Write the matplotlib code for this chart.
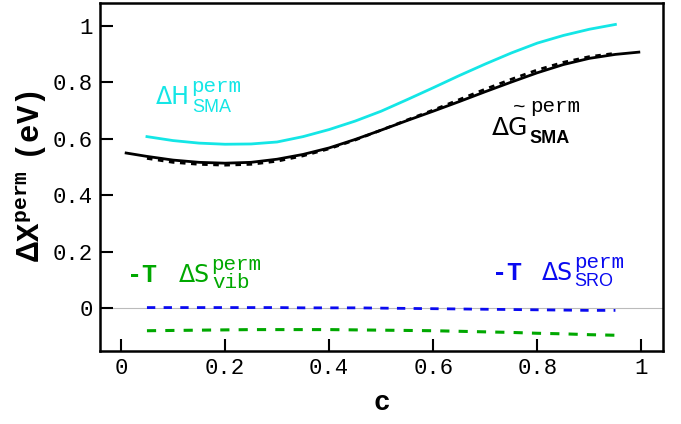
import numpy as np
import matplotlib.pyplot as plt
from matplotlib.transforms import offset_copy

plt.rcParams['mathtext.fontset'] = 'custom'
plt.rcParams['mathtext.rm'] = 'Liberation Sans:bold'
plt.rcParams['mathtext.tt'] = 'Liberation Mono:bold'
plt.rcParams['mathtext.sf'] = 'Liberation Sans'

# data
c_h = [0.05, 0.1, 0.15, 0.2, 0.25, 0.3, 0.35, 0.4, 0.45, 0.5, 0.55, 0.6, 0.65, 0.7, 0.75, 0.8, 0.85, 0.9, 0.95]
dH = [0.607, 0.593, 0.584, 0.580, 0.581, 0.588, 0.607, 0.632, 0.662, 0.697, 0.738, 0.780, 0.823, 0.864, 0.903, 0.938, 0.965, 0.987, 1.004]

c_g = [0.01, 0.05, 0.1, 0.15, 0.2, 0.25, 0.3, 0.35, 0.4, 0.45, 0.5, 0.55, 0.6, 0.65, 0.7, 0.75, 0.8, 0.85, 0.9, 0.95, 0.995]
dG = [0.549, 0.537, 0.524, 0.516, 0.513, 0.516, 0.527, 0.544, 0.567, 0.597, 0.630, 0.664, 0.697, 0.731, 0.766, 0.800, 0.833, 0.862, 0.884, 0.898, 0.906]

c_s = [0.05, 0.1, 0.15, 0.2, 0.25, 0.3, 0.35, 0.4, 0.45, 0.5, 0.55, 0.6, 0.65, 0.7, 0.75, 0.8, 0.85, 0.9, 0.95]
dG_approx = [0.530, 0.516, 0.509, 0.506, 0.509, 0.520, 0.539, 0.564, 0.595, 0.630, 0.666, 0.701, 0.738, 0.775, 0.810, 0.843, 0.870, 0.890, 0.902]
TS_sro = [0.002, 0.002, 0.002, 0.002, 0.002, 0.002, 0.001, 0.001, 0.001, 0.0, -0.001, -0.002, -0.003, -0.004, -0.005, -0.006, -0.007, -0.008, -0.008]
TS_vib = [-0.080, -0.079, -0.078, -0.077, -0.076, -0.076, -0.076, -0.076, -0.077, -0.078, -0.079, -0.080, -0.082, -0.084, -0.086, -0.089, -0.091, -0.094, -0.096]

ticks = [0, 0.2, 0.4, 0.6, 0.8, 1]
tick_labels = ['0', '0.2', '0.4', '0.6', '0.8', '1']

cyan = '#14e6e6'
green = '#00a800'
blue = '#0a0af0'

fig = plt.figure(figsize=(6.81, 4.24), dpi=100)
ax = fig.add_axes([0.147, 0.172, 0.827, 0.821])

ax.axhline(0, color='#bbbbbb', lw=0.8, zorder=0)
ax.plot(c_h, dH, color=cyan, lw=2)
ax.plot(c_g, dG, color='black', lw=2)
ax.plot(c_s, dG_approx, color='black', lw=2, linestyle=(0, (2, 2)))
ax.plot(c_s, TS_sro, color=blue, lw=2, linestyle=(0, (3, 3)))
ax.plot(c_s, TS_vib, color=green, lw=2.2, linestyle=(0, (3, 3)))

ax.set_xlim(-0.04, 1.042)
ax.set_ylim(-0.152, 1.08)
ax.set_xticks(ticks)
ax.set_xticklabels(tick_labels)
ax.set_yticks(ticks)
ax.set_yticklabels(tick_labels)
ax.tick_params(direction='in', length=9, width=1.5, labelsize=16, pad=5)
for lab in ax.get_xticklabels() + ax.get_yticklabels():
    lab.set_family('Liberation Mono')
for s in ax.spines.values():
    s.set_linewidth(1.8)

ax.set_xlabel('c', family='Liberation Mono', weight='bold', fontsize=20, labelpad=8)
ax.set_ylabel(r'$\Delta\mathtt{X}^{\mathtt{perm}}\mathtt{\ (eV)}$', fontsize=22, labelpad=3)


def put(x, y, s, dx, dy, **kw):
    tr = offset_copy(ax.transData, fig=fig, x=dx, y=dy, units='dots')
    ax.text(x, y, s, transform=tr, va='baseline', ha='left', **kw)


mono = dict(family='Liberation Mono', fontsize=15)
sans = dict(family='Liberation Sans', fontsize=13)

# Delta H label
put(0.067, 0.723, 'ΔH', 0, 0, color=cyan, family='DejaVu Sans', fontsize=17)
put(0.067, 0.723, 'perm', 35, 12, color=cyan, **mono)
put(0.067, 0.723, 'SMA', 36, -8, color=cyan, **sans)

# Delta G label
put(0.713, 0.613, 'ΔG', 0, 0, color='black', family='DejaVu Sans', fontsize=18)
put(0.713, 0.613, '~', 21, 22, color='black', **mono)
put(0.713, 0.613, 'perm', 38, 23, color='black', **mono)
put(0.713, 0.613, 'SMA', 37, -8, color='black', weight='bold', **sans)

# -T Delta S vib label
put(0.012, 0.092, '-T', 0, 0, color=green, family='Liberation Mono', weight='bold', fontsize=18)
put(0.012, 0.092, 'ΔS', 52, 0, color=green, family='DejaVu Sans', fontsize=17)
put(0.012, 0.092, 'perm', 84, 12, color=green, **mono)
put(0.012, 0.092, 'vib', 85, -6, color=green, **mono)

# -T Delta S SRO label
put(0.713, 0.099, '-T', 0, 0, color=blue, family='Liberation Mono', weight='bold', fontsize=18)
put(0.713, 0.099, 'ΔS', 50, 0, color=blue, family='DejaVu Sans', fontsize=17)
put(0.713, 0.099, 'perm', 82, 12, color=blue, **mono)
put(0.713, 0.099, 'SRO', 82, -6, color=blue, **sans)

fig.savefig('out.png', dpi=100)
